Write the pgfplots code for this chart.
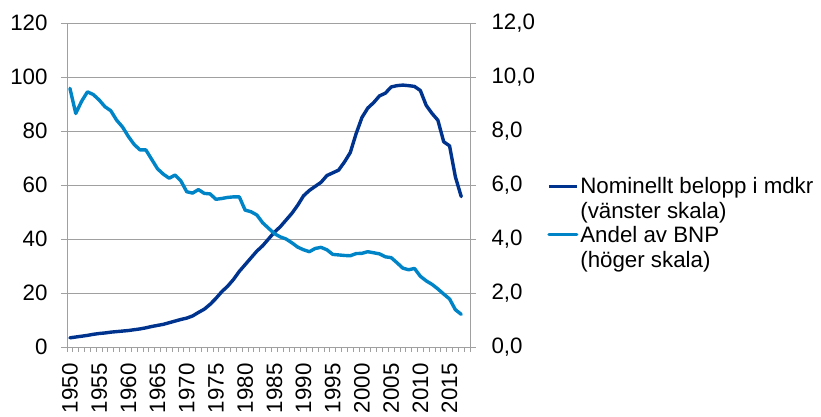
\documentclass[border=0pt]{standalone}
\usepackage{fontspec}
\setmainfont{Liberation Sans}
\usepackage{pgfplots}
\pgfplotsset{compat=1.18}
\definecolor{dkblue}{RGB}{0,51,141}
\definecolor{ltblue}{RGB}{0,132,200}
\definecolor{axgray}{RGB}{160,160,160}
\begin{document}
\begin{tikzpicture}[font=\fontsize{22.3}{25}\selectfont]
\pgfplotsset{
  every axis/.append style={
    width=403pt, height=324pt, scale only axis,
    xmin=1949.5, xmax=2018.5,
    /pgf/number format/assume math mode=true,
    tick style={axgray, line width=0.8pt},
    tick align=outside,
    major tick length=6pt, minor tick length=5pt,
    axis line style={-, axgray, line width=0.8pt},
  }
}
\begin{axis}[name=ax1,
  ymin=0, ymax=120, ytick={0,20,...,120},
  axis x line*=bottom, axis y line*=left,
  ymajorgrids, grid style={axgray, line width=0.8pt},
  xtick={1950,1955,...,2015},
  minor xtick={1949.5,1950.5,...,2018.5},
  major x tick style={draw=none},
  xticklabel style={rotate=90, anchor=east, xshift=-7pt, /pgf/number format/1000 sep={}},
  yticklabel style={xshift=-10pt},
]
\addplot[dkblue, line width=3.4pt, line join=round, line cap=round] table {
1950 3.4
1951 3.7
1952 4.0
1953 4.3
1954 4.7
1955 5.0
1956 5.2
1957 5.5
1958 5.7
1959 5.9
1960 6.1
1961 6.4
1962 6.7
1963 7.1
1964 7.6
1965 8.0
1966 8.4
1967 9.0
1968 9.6
1969 10.2
1970 10.7
1971 11.5
1972 12.8
1973 14.0
1974 15.8
1975 18.0
1976 20.5
1977 22.5
1978 25.0
1979 28.0
1980 30.5
1981 33.0
1982 35.5
1983 37.5
1984 40.0
1985 42.5
1986 44.5
1987 47.0
1988 49.5
1989 52.5
1990 56.0
1991 58.0
1992 59.5
1993 61.0
1994 63.5
1995 64.5
1996 65.5
1997 68.5
1998 72.0
1999 79.0
2000 85.0
2001 88.5
2002 90.5
2003 93.0
2004 94.0
2005 96.3
2006 96.8
2007 97.0
2008 96.8
2009 96.5
2010 95.0
2011 89.5
2012 86.5
2013 84.0
2014 76.0
2015 74.5
2016 63.0
2017 55.7
};
\end{axis}
\begin{axis}[
  ymin=0, ymax=12, ytick={0,2,...,12},
  axis y line*=right, axis x line=none,
  yticklabel style={xshift=12pt, /pgf/number format/.cd, fixed, fixed zerofill, precision=1, use comma},
  legend style={at={(1.191,0.383)}, anchor=west, draw=none, fill=none, inner sep=0pt,
    cells={align=left, anchor=west}, row sep=2pt},
  legend image code/.code={\draw[#1, line width=3pt] (0pt,12.5pt) -- (28pt,12.5pt); \path (0pt,-12.5pt);},
]
\addlegendimage{dkblue}
\addlegendentry{Nominellt belopp i mdkr\\(vänster skala)}
\addplot[ltblue, line width=3.4pt, line join=round, line cap=round] table {
1950 9.58
1951 8.65
1952 9.10
1953 9.45
1954 9.35
1955 9.15
1956 8.90
1957 8.75
1958 8.40
1959 8.15
1960 7.80
1961 7.50
1962 7.30
1963 7.30
1964 6.95
1965 6.60
1966 6.40
1967 6.25
1968 6.37
1969 6.15
1970 5.75
1971 5.70
1972 5.83
1973 5.69
1974 5.67
1975 5.47
1976 5.50
1977 5.54
1978 5.56
1979 5.56
1980 5.07
1981 5.01
1982 4.89
1983 4.60
1984 4.40
1985 4.20
1986 4.08
1987 4.00
1988 3.86
1989 3.70
1990 3.60
1991 3.53
1992 3.65
1993 3.69
1994 3.60
1995 3.43
1996 3.41
1997 3.39
1998 3.38
1999 3.46
2000 3.47
2001 3.53
2002 3.49
2003 3.45
2004 3.34
2005 3.31
2006 3.12
2007 2.92
2008 2.86
2009 2.91
2010 2.62
2011 2.45
2012 2.32
2013 2.15
2014 1.96
2015 1.78
2016 1.38
2017 1.21
};
\addlegendentry{Andel av BNP\\(höger skala)}
\end{axis}
\path[use as bounding box] ([xshift=-67pt,yshift=-66pt]ax1.south west) rectangle ([xshift=351pt,yshift=23pt]ax1.north east);
\end{tikzpicture}
\end{document}
